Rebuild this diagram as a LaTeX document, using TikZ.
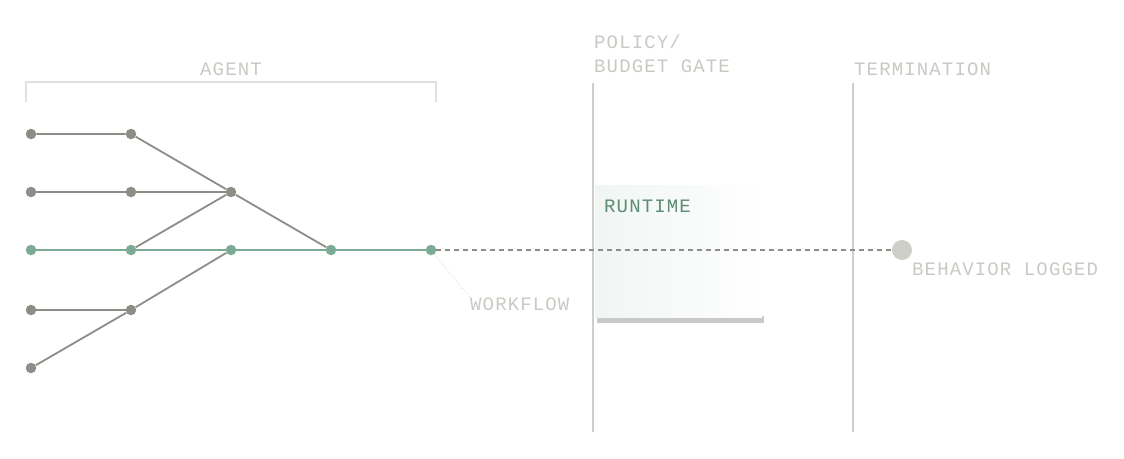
\documentclass[tikz,border=0pt]{standalone}
\usepackage{fontspec}
\newfontfamily\lblfont{Liberation Mono}[LetterSpace=6]
\usetikzlibrary{positioning}
\definecolor{dotgray}{HTML}{8C8D86}
\definecolor{dotgreen}{HTML}{7BAA95}
\definecolor{txtgray}{HTML}{C9C9C4}
\definecolor{railgray}{HTML}{CFCFCA}
\definecolor{runtxt}{HTML}{5E8C76}
\tikzset{
  gdot/.style={circle,fill=dotgray,inner sep=0pt,minimum size=10.5pt},
  vdot/.style={circle,fill=dotgreen,inner sep=0pt,minimum size=10.5pt},
  gedge/.style={draw=dotgray,line width=1.8pt},
  vedge/.style={draw=dotgreen,line width=1.8pt},
  lbl/.style={font=\lblfont\fontsize{19}{22}\selectfont,text=txtgray,inner sep=0pt},
  rail/.style={draw=railgray,line width=1.8pt}
}
\begin{document}
\begin{tikzpicture}[x=1pt,y=-1pt]
\useasboundingbox (0,0) rectangle (1124,458);
% agent bracket
\draw[draw=black!12,line width=1.8pt] (26,102)--(26,82)--(436,82)--(436,102);
\node[lbl,anchor=base] (agent) at (231,75) {AGENT};
% runtime box
\fill[black!21] (597,316) rectangle (764,322.5);
\shade[left color=dotgreen!11,right color=white,middle color=dotgreen!6] (595,185) rectangle (762,317);
\node[lbl,anchor=base west,text=runtxt] (runtime) at (604,212) {RUNTIME};
% rails
\coordinate (gtop) at (593,83);
\coordinate (gbot) at (593,432);
\coordinate (ttop) at (853,83);
\coordinate (tbot) at (853,432);
\draw[rail] (gtop)--(gbot);
\draw[rail] (ttop)--(tbot);
\node[lbl,anchor=base west] (policy) at (594,48) {POLICY/};
\node[lbl,anchor=base west] (budget) at (594,72) {BUDGET GATE};
\node[lbl,anchor=base west] (term) at (854,75) {TERMINATION};
% dots
\node[gdot] (a1) at (31,134) {};
\node[gdot] (b1) at (131,134) {};
\node[gdot] (a2) at (31,192) {};
\node[gdot] (b2) at (131,192) {};
\node[gdot] (c2) at (231,192) {};
\node[vdot] (a3) at (31,250) {};
\node[vdot] (b3) at (131,250) {};
\node[vdot] (c3) at (231,250) {};
\node[vdot] (d3) at (331,250) {};
\node[vdot] (e3) at (431,250) {};
\node[gdot] (a4) at (31,310) {};
\node[gdot] (b4) at (131,310) {};
\node[gdot] (a5) at (31,368) {};
\node[circle,fill=railgray,inner sep=0pt,minimum size=20pt] (logged) at (902,250) {};
% edges
\draw[gedge] (a1)--(b1)--(c2);
\draw[gedge] (a2)--(b2)--(c2);
\draw[gedge] (b3)--(c2)--(d3);
\draw[gedge] (a4)--(b4);
\draw[gedge] (a5)--(b4)--(c3);
\draw[vedge] (a3)--(b3)--(c3)--(d3)--(e3);
\draw[draw=dotgray,line width=1.5pt,dash pattern=on 5pt off 4pt] (e3)--(logged);
% labels
\node[lbl,anchor=base west] (wf) at (470,310) {WORKFLOW};
\draw[draw=black!20,line width=0.6pt,dotted] (e3)--(wf.north west);
\node[lbl,anchor=base west] (beh) at (912,275) {BEHAVIOR LOGGED};
\end{tikzpicture}
\end{document}
